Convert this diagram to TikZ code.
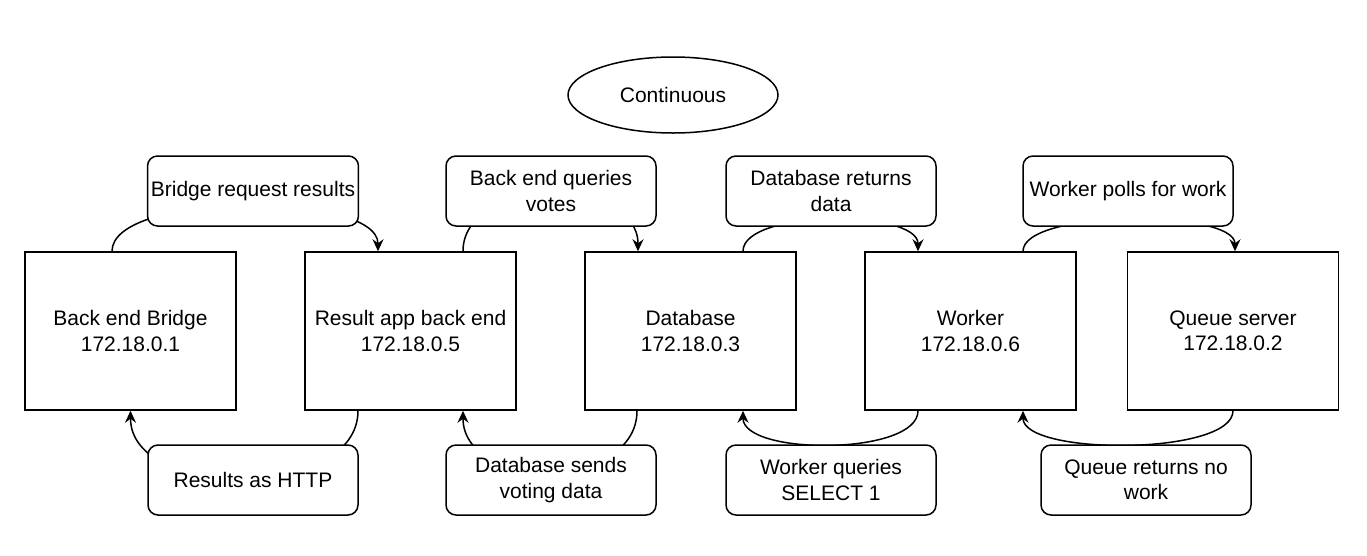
\documentclass[tikz,border=0pt]{standalone}
\usepackage{fontspec}
\setmainfont{Liberation Sans}
\usetikzlibrary{arrows.meta,shapes.geometric}

\tikzset{
  host/.style={draw, line width=1.5pt, minimum width=211pt, minimum height=158pt,
    align=center, font=\fontsize{21}{25.5}\selectfont},
  msg/.style={draw, fill=white, line width=1.5pt, rounded corners=10pt,
    minimum width=210pt, minimum height=70pt, align=center,
    font=\fontsize{21}{25.5}\selectfont},
  flow/.style={line width=1.5pt, -{Stealth[length=12pt,width=11pt,inset=4pt]}}
}

\begin{document}
\begin{tikzpicture}[x=1pt,y=-1pt]
\useasboundingbox (0,0) rectangle (1367,555);

% Toestand
\node[draw, ellipse, line width=1.5pt, minimum width=210pt, minimum height=76pt,
  font=\fontsize{21}{25.5}\selectfont] (cont) at (673,95) {Continuous};

% Hosts
\node[host] (bridge) at (130.5,331) {Back end Bridge\\172.18.0.1};
\node[host] (resultapp) at (410.5,331) {Result app back end\\172.18.0.5};
\node[host] (database) at (690.5,331) {Database\\172.18.0.3};
\node[host] (worker) at (970.5,331) {Worker\\172.18.0.6};
\node[host] (queue) at (1233,331) {Queue server\\172.18.0.2};

% Verzoeken (boven)
\draw[flow] ([xshift=-18.5pt]bridge.north) .. controls +(0,-60) and +(0,-60) .. ([xshift=-32.5pt]resultapp.north);
\draw[flow] ([xshift=52.5pt]resultapp.north) .. controls +(0,-75) and +(0,-75) .. ([xshift=-52.5pt]database.north);
\draw[flow] ([xshift=52.5pt]database.north) .. controls +(0,-42) and +(0,-42) .. ([xshift=-52.5pt]worker.north);
\draw[flow] ([xshift=52.5pt]worker.north) .. controls +(0,-42) and +(0,-42) .. ([xshift=2pt]queue.north);

% Antwoorden (onder)
\draw[flow] ([xshift=-52.5pt]resultapp.south) .. controls +(0,90) and +(0,90) .. (bridge.south);
\draw[flow] ([xshift=-53.5pt]database.south) .. controls +(0,80) and +(0,80) .. ([xshift=52.5pt]resultapp.south);
\draw[flow] ([xshift=-52.5pt]worker.south) .. controls +(0,45) and +(0,45) .. ([xshift=52.5pt]database.south);
\draw[flow] (queue.south) .. controls +(0,45) and +(0,45) .. ([xshift=52.5pt]worker.south);

% Labels
\node[msg] (bridgereq) at (253,191) {Bridge request results};
\node[msg] (queryvotes) at (551,191) {Back end queries\\votes};
\node[msg] (returndata) at (831,191) {Database returns\\data};
\node[msg] (pollwork) at (1128,191) {Worker polls for work};
\node[msg] (resulthttp) at (253,480) {Results as HTTP};
\node[msg] (sendvotes) at (551,480) {Database sends\\voting data};
\node[msg] (selectone) at (831,480) {Worker queries\\SELECT 1};
\node[msg] (nowork) at (1146,480) {Queue returns no\\work};
\end{tikzpicture}
\end{document}
